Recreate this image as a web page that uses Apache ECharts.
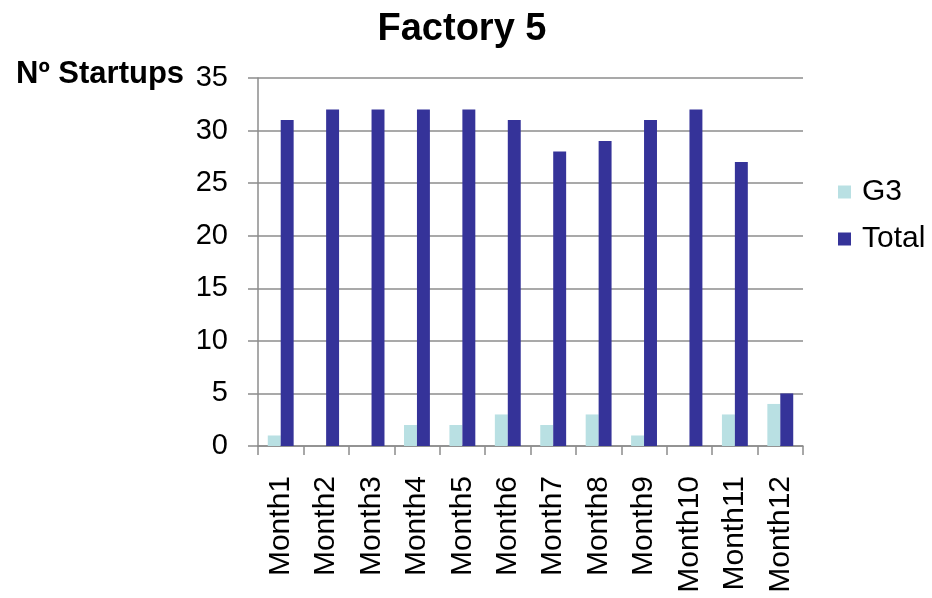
<!DOCTYPE html>
<html><head><meta charset="utf-8">
<script src="https://cdn.jsdelivr.net/npm/echarts@6/dist/echarts.min.js"></script>
<style>html,body{margin:0;padding:0;background:#fff}#c{width:932px;height:598px}</style>
</head><body><div id="c"></div>
<script>
const categories = ['Month1','Month2','Month3','Month4','Month5','Month6','Month7','Month8','Month9','Month10','Month11','Month12'];
const g3 = [1,0,0,2,2,3,2,3,1,0,3,4];
const total = [31,32,32,32,32,31,28,29,31,32,27,5];
const yTicks = {min:0, max:35, interval:5};
const yName = 'Nº Startups';
const font = '"Liberation Sans", Arial, sans-serif';
const chart = echarts.init(document.getElementById('c'));
chart.setOption({
  animation:false,
  title:[
    {text:'Factory 5', left:457, top:6, textAlign:'center',
      textStyle:{fontFamily:font, fontSize:38, fontWeight:'bold', color:'#000'}},
    {text:yName, left:11, top:54,
      textStyle:{fontFamily:font, fontSize:31, fontWeight:'bold', color:'#000'}}
  ],
  legend:{orient:'vertical', left:833, top:172, itemWidth:13, itemHeight:13, itemGap:17,
    icon:'rect', textStyle:{fontFamily:font, fontSize:30, color:'#000', padding:[0,0,0,6]},
    data:['G3','Total']},
  grid:{left:258, right:129, top:78, bottom:152, containLabel:false},
  xAxis:{type:'category', data:categories,
    axisLine:{lineStyle:{color:'#8c8c8c', width:1.5}},
    axisTick:{show:true, alignWithLabel:false, length:9, lineStyle:{color:'#8c8c8c', width:1.5}},
    axisLabel:{rotate:90, fontFamily:font, fontSize:30, color:'#000', margin:30, interval:0}},
  yAxis:{type:'value', min:yTicks.min, max:yTicks.max, interval:yTicks.interval,
    axisLine:{show:true, lineStyle:{color:'#8c8c8c', width:1.5}},
    axisTick:{show:true, length:10, lineStyle:{color:'#8c8c8c', width:1.5}},
    splitLine:{lineStyle:{color:'#8c8c8c', width:1.5}},
    axisLabel:{fontFamily:font, fontSize:29, color:'#000', margin:30}},
  series:[
    {name:'G3', type:'bar', data:g3, barGap:'0%', barCategoryGap:'43%', itemStyle:{color:'#B9E0E3'}},
    {name:'Total', type:'bar', data:total, barGap:'0%', barCategoryGap:'43%', itemStyle:{color:'#353399'}}
  ]
});
</script></body></html>
